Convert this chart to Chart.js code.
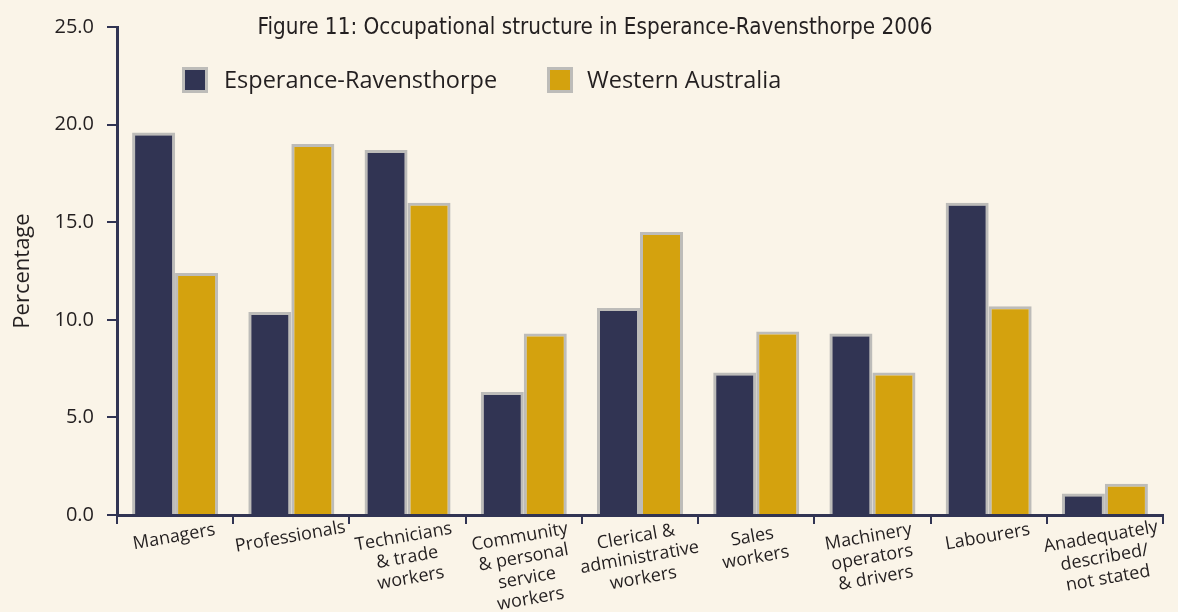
<!DOCTYPE html>
<html>
<head>
<meta charset="utf-8">
<script src="https://cdn.jsdelivr.net/npm/chart.js@4.4.0/dist/chart.umd.min.js"></script>
<style>
  body { margin: 0; background: #faf4e8; }
</style>
</head>
<body>
<canvas id="occ" width="1178" height="612"></canvas>
<script>
// data
var categories = [
  ['Managers'],
  ['Professionals'],
  ['Technicians', '& trade', 'workers'],
  ['Community', '& personal', 'service', 'workers'],
  ['Clerical &', 'administrative', 'workers'],
  ['Sales', 'workers'],
  ['Machinery', 'operators', '& drivers'],
  ['Labourers'],
  ['Anadequately', 'described/', 'not stated']
];
var seriesNames = ['Esperance-Ravensthorpe', 'Western Australia'];
var esperance  = [19.6, 10.4, 18.7, 6.3, 10.6, 7.3, 9.3, 16.0, 1.1];
var westernAus = [12.4, 19.0, 16.0, 9.3, 14.5, 9.4, 7.3, 10.7, 1.6];
var chartTitle = 'Figure 11: Occupational structure in Esperance-Ravensthorpe 2006';
var yTitle = 'Percentage';

var NAVY = '#313453', GOLD = '#d4a20e', EDGE = '#bdbcb9', INK = '#231f20', BG = '#faf4e8';
var FONT = "'Open Sans', sans-serif";

// background, title, legend and the slanted category labels
var decor = {
  id: 'decor',
  beforeDraw: function (chart) {
    var c = chart.ctx;
    c.save();
    c.fillStyle = BG;
    c.fillRect(0, 0, chart.width, chart.height);
    c.restore();
  },
  afterDraw: function (chart) {
    var c = chart.ctx;
    c.save();
    // title
    c.fillStyle = INK;
    c.font = "22.3px 'Liberation Sans Narrow', 'DejaVu Sans Condensed', sans-serif";
    c.textAlign = 'center';
    c.textBaseline = 'middle';
    c.fillText(chartTitle, 595, 28);

    // legend
    var items = [[182, 224], [547, 587]];
    c.font = '23.5px ' + FONT;
    c.textAlign = 'left';
    chart.data.datasets.forEach(function (ds, i) {
      var x = items[i][0];
      c.fillStyle = EDGE;
      c.fillRect(x, 67, 26, 26);
      c.fillStyle = ds.backgroundColor;
      c.fillRect(x + 3, 70, 20, 20);
      c.fillStyle = INK;
      c.fillText(ds.label, items[i][1], 81);
    });

    // x labels, tilted ~10 deg
    var xs = chart.scales.x;
    c.font = '18px ' + FONT;
    c.textAlign = 'center';
    var ang = -10 * Math.PI / 180;
    chart.data.labels.forEach(function (lines, i) {
      var cx = xs.getPixelForValue(i) - (lines.length > 1 ? 4 : 1);
      c.save();
      c.translate(cx, 537);
      c.rotate(ang);
      lines.forEach(function (ln, k) {
        c.fillText(ln, 0, k * 21);
      });
      c.restore();
    });
    c.restore();
  }
};

new Chart(document.getElementById('occ'), {
  type: 'bar',
  data: {
    labels: categories,
    datasets: [
      { label: seriesNames[0], data: esperance, backgroundColor: NAVY },
      { label: seriesNames[1], data: westernAus, backgroundColor: GOLD }
    ]
  },
  options: {
    responsive: false,
    animation: false,
    layout: { padding: { top: 27, right: 15, left: 0, bottom: 0 } },
    datasets: {
      bar: {
        borderColor: EDGE,
        borderWidth: 3,
        borderSkipped: 'bottom',
        categoryPercentage: 0.74,
        barPercentage: 1.0
      }
    },
    plugins: {
      legend: { display: false },
      title: { display: false },
      tooltip: { enabled: false }
    },
    scales: {
      x: {
        grid: { display: true, drawOnChartArea: false, offset: true, color: NAVY, lineWidth: 2, tickLength: 9 },
        border: { color: NAVY, width: 3 },
        ticks: { display: false },
        afterFit: function (s) { s.height = 97; }
      },
      y: {
        min: 0, max: 25,
        grid: { drawOnChartArea: false, color: NAVY, lineWidth: 2, tickLength: 10 },
        border: { color: NAVY, width: 3 },
        ticks: {
          stepSize: 5,
          padding: 13,
          color: INK,
          font: { family: FONT, size: 20 },
          callback: function (v) { return v.toFixed(1); }
        },
        title: {
          display: true, text: yTitle, color: INK,
          font: { family: FONT, size: 22 },
          padding: { top: 10, bottom: 0 }
        },
        afterFit: function (s) { s.width = 117; }
      }
    }
  },
  plugins: [decor]
});
</script>
</body>
</html>
